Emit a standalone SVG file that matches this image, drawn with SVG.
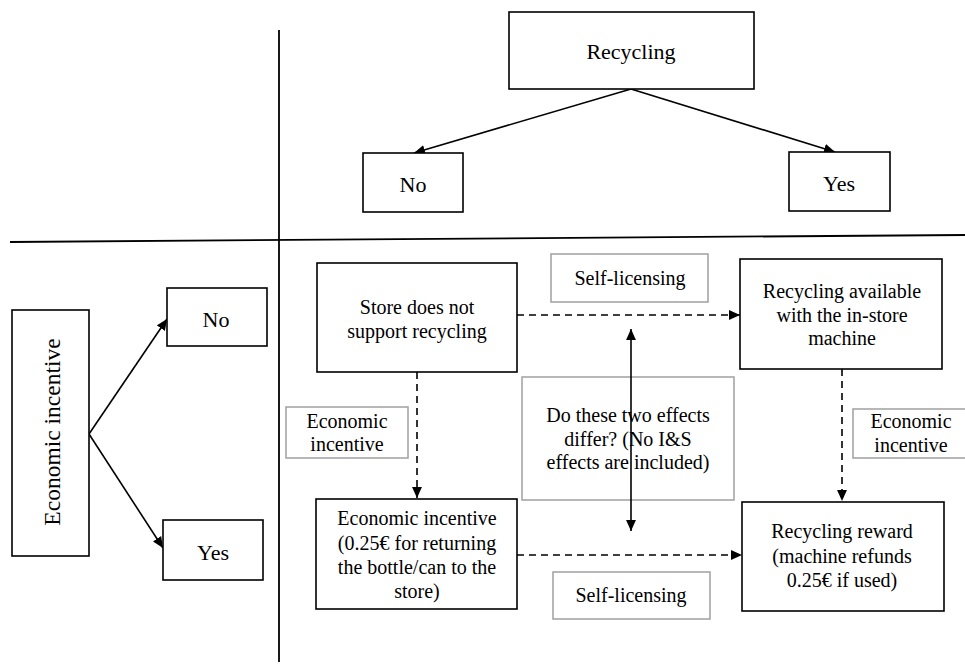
<svg xmlns="http://www.w3.org/2000/svg" width="965" height="666" viewBox="0 0 965 666">
<style>
  .box { fill: #fff; stroke: #000; stroke-width: 1.6; }
  .gbox { fill: #fff; stroke: #a6a6a6; stroke-width: 1.6; }
  .t22 { font-size: 22px; }
  .t20 { font-size: 20px; }
  .solid { stroke: #000; stroke-width: 1.6; fill: none; }
  .dash { stroke: #000; stroke-width: 1.6; fill: none; stroke-dasharray: 7 5; }
  .axis { stroke: #000; stroke-width: 1.8; fill: none; }
</style>
<defs>
  <marker id="ah" viewBox="0 0 10 10" refX="10" refY="5" markerWidth="11" markerHeight="11" markerUnits="userSpaceOnUse" orient="auto-start-reverse">
    <path d="M0,0.5 L10,5 L0,9.5 z" fill="#000"/>
  </marker>
</defs>

<g id="axes">
  <line class="axis" x1="279" y1="30" x2="279" y2="662"/>
  <line class="axis" x1="10" y1="242" x2="965" y2="235"/>
</g>

<g id="connectors">
  <line class="solid" x1="631" y1="89" x2="414" y2="153" marker-end="url(#ah)"/>
  <line class="solid" x1="631" y1="89" x2="835" y2="152" marker-end="url(#ah)"/>
  <line class="solid" x1="89" y1="434" x2="167" y2="319" marker-end="url(#ah)"/>
  <line class="solid" x1="89" y1="434" x2="163" y2="548" marker-end="url(#ah)"/>
  <line class="dash" x1="517" y1="315" x2="740" y2="315" marker-end="url(#ah)"/>
  <line class="dash" x1="517" y1="555" x2="742" y2="555" marker-end="url(#ah)"/>
  <line class="dash" x1="417" y1="372" x2="417" y2="498" marker-end="url(#ah)"/>
  <line class="dash" x1="842" y1="369" x2="842" y2="501" marker-end="url(#ah)"/>
</g>

<g font-family="'Liberation Serif', 'Times New Roman', 'DejaVu Serif', serif" text-anchor="middle" fill="#000">
<g id="recycling">
  <rect class="box" x="509" y="12" width="245" height="77"/>
  <text class="t22" x="631" y="59">Recycling</text>
</g>
<g id="rec-no">
  <rect class="box" x="363" y="153" width="100" height="59"/>
  <text class="t22" x="413" y="192">No</text>
</g>
<g id="rec-yes">
  <rect class="box" x="789" y="152" width="101" height="59"/>
  <text class="t22" x="839" y="191">Yes</text>
</g>

<g id="econ">
  <rect class="box" x="12" y="310" width="77" height="246"/>
  <text x="0" y="0" transform="translate(60,432) rotate(-90)" font-size="23.5">Economic incentive</text>
</g>
<g id="econ-no">
  <rect class="box" x="167" y="288" width="100" height="58"/>
  <text class="t22" x="216" y="327">No</text>
</g>
<g id="econ-yes">
  <rect class="box" x="163" y="520" width="100" height="60"/>
  <text class="t22" x="213" y="560">Yes</text>
</g>

<g id="store-no">
  <rect class="box" x="317" y="263" width="200" height="109"/>
  <text class="t20" x="417" y="314">Store does not</text>
  <text class="t20" x="417" y="338">support recycling</text>
</g>
<g id="available">
  <rect class="box" x="740" y="259" width="202" height="110"/>
  <text class="t20" x="842" y="298">Recycling  available</text>
  <text class="t20" x="842" y="322">with the in-store</text>
  <text class="t20" x="842" y="345">machine</text>
</g>
<g id="incentive">
  <rect class="box" x="316" y="499" width="201" height="110"/>
  <text class="t20" x="417" y="525">Economic  incentive</text>
  <text class="t20" x="417" y="550">(0.25€ for returning</text>
  <text class="t20" x="417" y="574">the bottle/can  to  the</text>
  <text class="t20" x="417" y="598">store)</text>
</g>
<g id="reward">
  <rect class="box" x="742" y="502" width="202" height="109"/>
  <text class="t20" x="842" y="538">Recycling  reward</text>
  <text class="t20" x="842" y="563">(machine  refunds</text>
  <text class="t20" x="842" y="587">0.25€ if used)</text>
</g>

<g id="label-self-top">
  <rect class="gbox" x="551" y="254" width="157" height="48"/>
  <text class="t20" x="630" y="285">Self-licensing</text>
</g>
<g id="label-self-bottom">
  <rect class="gbox" x="553" y="572" width="157" height="47"/>
  <text class="t20" x="631" y="602">Self-licensing</text>
</g>
<g id="label-econ-left">
  <rect class="gbox" x="286" y="407" width="122" height="51"/>
  <text class="t20" x="347" y="428">Economic</text>
  <text class="t20" x="347" y="451">incentive</text>
</g>
<g id="label-econ-right">
  <rect class="gbox" x="853" y="409" width="125" height="49"/>
  <text class="t20" x="911" y="428">Economic</text>
  <text class="t20" x="911" y="452">incentive</text>
</g>
<g id="question">
  <rect class="gbox" x="522" y="377" width="212" height="123"/>
  <text class="t20" x="628" y="422">Do these two effects</text>
  <text class="t20" x="628" y="446">differ? (No I&amp;S</text>
  <text class="t20" x="628" y="469">effects are included)</text>
</g>
</g>

<g id="compare">
  <line class="solid" x1="631" y1="329" x2="631" y2="531" marker-start="url(#ah)" marker-end="url(#ah)"/>
</g>
</svg>
